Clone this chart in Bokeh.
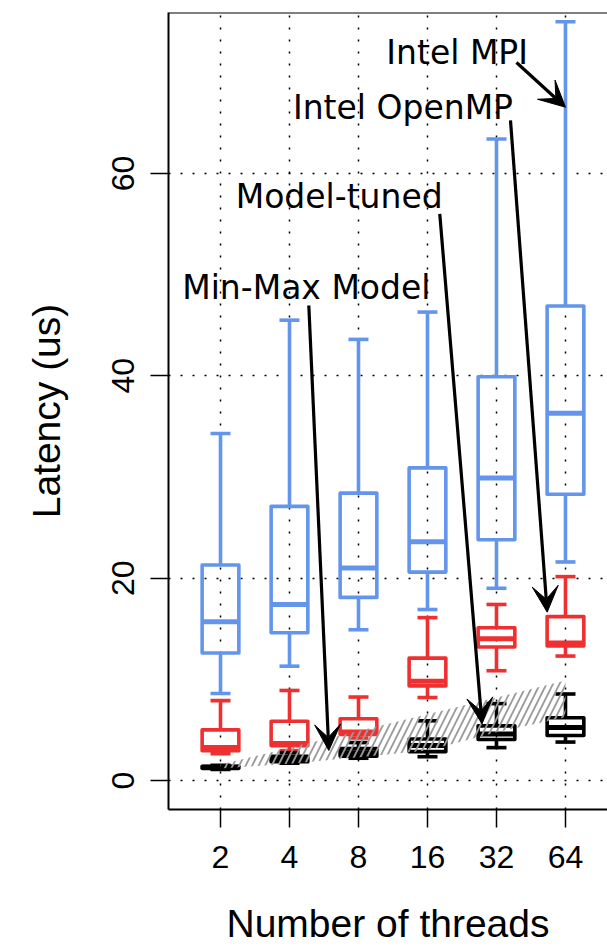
from bokeh.plotting import figure
from bokeh.models import Range1d, FixedTicker, Span, Arrow, VeeHead
from bokeh.core.properties import value
from bokeh.embed import file_html
from bokeh.resources import INLINE

# ---------------- data ----------------
threads = ["2", "4", "8", "16", "32", "64"]
y_ticks = [0, 20, 40, 60]

# Intel MPI (blue)
mpi_low = [8.6, 11.3, 14.9, 16.9, 19.0, 21.6]
mpi_q1 = [12.6, 14.6, 18.1, 20.6, 23.8, 28.3]
mpi_med = [15.7, 17.4, 21.0, 23.6, 29.9, 36.3]
mpi_q3 = [21.3, 27.1, 28.4, 30.9, 39.9, 46.9]
mpi_high = [34.3, 45.5, 43.6, 46.3, 63.4, 75.0]

# Intel OpenMP (red)
omp_low = [2.65, 2.95, 4.2, 8.2, 10.85, 12.3]
omp_q1 = [2.95, 3.45, 4.55, 9.35, 13.2, 13.3]
omp_med = [3.25, 3.65, 4.8, 9.8, 14.0, 13.6]
omp_q3 = [5.0, 5.85, 6.1, 12.1, 15.1, 16.2]
omp_high = [7.9, 8.9, 8.25, 16.1, 17.4, 20.15]

# Model-tuned (black)
tuned_low = [1.1, 1.7, 2.2, 2.35, 3.25, 3.8]
tuned_q1 = [1.2, 1.85, 2.4, 2.85, 4.05, 4.45]
tuned_med = [1.3, 2.05, 2.75, 3.45, 4.6, 5.25]
tuned_q3 = [1.4, 2.4, 3.15, 4.1, 5.4, 6.2]
tuned_high = [1.5, 2.75, 3.75, 5.9, 7.6, 8.55]

# Min-Max Model band
model_min = [1.19, 1.65, 2.3, 2.96, 4.78, 6.26]
model_max = [1.58, 3.23, 4.9, 6.55, 8.2, 9.88]

# annotations
annot_text = ["Intel MPI", "Intel OpenMP", "Model-tuned", "Min-Max Model"]
annot_x = [4.43, 3.645, 2.72, 2.244]
annot_y = [72.0, 66.5, 57.74, 48.71]
arrow_x0 = [5.29, 5.203, 4.178, 2.28]
arrow_y0 = [70.97, 65.24, 56.01, 46.95]
arrow_x1 = [6.0, 5.735, 4.79, 2.57]
arrow_y1 = [66.55, 16.64, 5.6, 2.97]

x_title = "Number of threads"
y_title = "Latency (us)"

BLUE = "#6495ED"
RED = "#EE3030"
BLACK = "#000000"
AXIS_FONT = "Liberation Sans"
ANNOT_FONT = "DejaVu Sans"

xs = list(range(1, len(threads) + 1))

p = figure(width=607, height=948, output_backend="svg", toolbar_location=None,
           x_range=Range1d(0.2464, 6.609), y_range=Range1d(-2.866, 75.91),
           min_border_left=168, min_border_right=0, min_border_top=12,
           min_border_bottom=139)
p.outline_line_color = None
p.background_fill_color = "white"
p.border_fill_color = "white"

# grid
for g, tk in ((p.xgrid, xs), (p.ygrid, y_ticks)):
    g.ticker = FixedTicker(ticks=tk)
    g.grid_line_color = "black"
    g.grid_line_dash = "2 10"
    g.grid_line_width = 1.5

# axes
p.xaxis.ticker = FixedTicker(ticks=xs)
p.xaxis.major_label_overrides = {x: t for x, t in zip(xs, threads)}
p.yaxis.ticker = FixedTicker(ticks=y_ticks)
p.yaxis.major_label_orientation = "parallel"
p.xaxis.axis_label = x_title
p.yaxis.axis_label = y_title
for ax in (p.xaxis, p.yaxis):
    ax.axis_line_width = 2
    ax.axis_line_color = "black"
    ax.major_tick_out = 18
    ax.major_tick_in = 0
    ax.major_tick_line_width = 1.5
    ax.minor_tick_line_color = None
    ax.major_label_text_font = AXIS_FONT
    ax.major_label_text_font_size = "32px"
    ax.major_label_text_color = "black"
    ax.major_label_text_line_height = 1.0
    ax.axis_label_text_font = AXIS_FONT
    ax.axis_label_text_font_size = "39px"
    ax.axis_label_text_font_style = "normal"
    ax.axis_label_text_color = "black"
    ax.axis_label_text_line_height = 1.0
p.xaxis.major_label_standoff = 18
p.xaxis.axis_label_standoff = 31
p.yaxis.major_label_standoff = 16
p.yaxis.axis_label_standoff = 42

# top border of the frame
p.add_layout(Span(location=p.y_range.end, dimension="width",
                  line_color="black", line_width=2))

HW = 0.266
CW = 0.145
LW = 3.6


def draw_box(low, q1, med, q3, high, color):
    p.segment(x0=xs, y0=q3, x1=xs, y1=high, line_color=color, line_width=LW)
    p.segment(x0=xs, y0=low, x1=xs, y1=q1, line_color=color, line_width=LW)
    p.segment(x0=[x - CW for x in xs], y0=high, x1=[x + CW for x in xs], y1=high,
              line_color=color, line_width=LW)
    p.segment(x0=[x - CW for x in xs], y0=low, x1=[x + CW for x in xs], y1=low,
              line_color=color, line_width=LW)
    p.quad(left=[x - HW for x in xs], right=[x + HW for x in xs], bottom=q1, top=q3,
           fill_color=None, line_color=color, line_width=LW, line_join="round")
    p.segment(x0=[x - HW for x in xs], y0=med, x1=[x + HW for x in xs], y1=med,
              line_color=color, line_width=5)


draw_box(mpi_low, mpi_q1, mpi_med, mpi_q3, mpi_high, BLUE)
draw_box(omp_low, omp_q1, omp_med, omp_q3, omp_high, RED)
draw_box(tuned_low, tuned_q1, tuned_med, tuned_q3, tuned_high, BLACK)

# hatched Min-Max model band
band_x = xs + xs[::-1]
band_y = model_max + model_min[::-1]
p.patch(x=band_x, y=band_y, fill_alpha=0, line_alpha=0,
        hatch_pattern="/", hatch_color="#9a9a9a", hatch_scale=13, hatch_weight=1.8)

# annotations
p.text(x=annot_x, y=annot_y, text=annot_text, text_font=value(ANNOT_FONT),
       text_font_size="33px", text_align="center", text_baseline="alphabetic",
       text_color="black")
for i in range(len(annot_text)):
    p.add_layout(Arrow(end=VeeHead(size=26, fill_color="black", line_color="black"),
                       x_start=arrow_x0[i], y_start=arrow_y0[i],
                       x_end=arrow_x1[i], y_end=arrow_y1[i],
                       line_color="black", line_width=3.2))

open("out.html", "w").write(file_html(p, INLINE))
